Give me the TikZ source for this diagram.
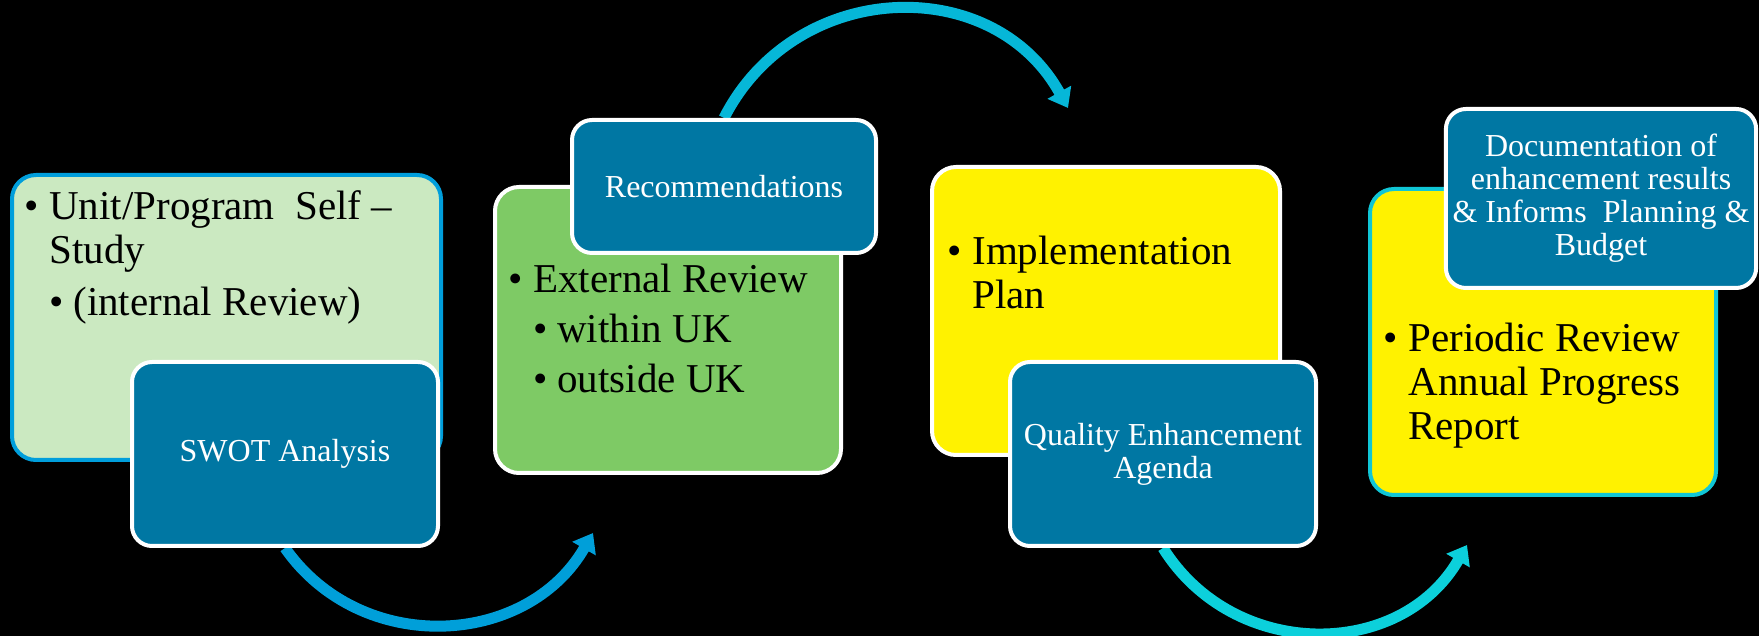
\documentclass[tikz,border=0pt]{standalone}
\usepackage{fontspec}
\setmainfont{Liberation Serif}
\usetikzlibrary{arrows.meta}
\definecolor{noteblue}{RGB}{0,119,163}
\definecolor{stageblue}{RGB}{0,158,219}
\definecolor{stagecyan}{RGB}{16,198,214}
\definecolor{palegreen}{RGB}{203,233,193}
\definecolor{leafgreen}{RGB}{126,202,101}
\definecolor{arrowA}{RGB}{0,159,217}
\definecolor{arrowB}{RGB}{6,183,216}
\definecolor{arrowC}{RGB}{12,208,219}
\newcommand{\bul}{\makebox[12.5pt][l]{\textbullet}}
\newcommand{\ind}{\hspace*{12.5pt}}
\newcommand{\subbul}{\hspace*{12.5pt}\makebox[12pt][l]{\textbullet}}
\pgfdeclarelayer{behind}
\pgfsetlayers{behind,main}
\tikzset{
  stage/.style={draw=white, line width=2pt, rounded corners=12pt, inner sep=0pt},
  note/.style={fill=noteblue, draw=white, line width=2pt, rounded corners=10pt, text=white, align=center, font=\fontsize{16}{16.5}\selectfont},
  bigtext/.style={anchor=north west, inner sep=0pt, align=left, font=\fontsize{20.5}{22}\selectfont},
  cyclearrow/.style={line width=5.5pt, -{Triangle[length=9pt,width=13pt]}}
}
\begin{document}
\begin{tikzpicture}[x=0.5pt,y=0.5pt]
\begin{pgfonlayer}{behind}
\fill[black] (0,0) rectangle (1759,636);
\end{pgfonlayer}
\useasboundingbox (0,0) rectangle (1759,636);
\node[stage, draw=stageblue, fill=palegreen, minimum width=214.5pt, minimum height=142.5pt] (s1) at (226.5,318.5) {};
\node[stage, fill=leafgreen, minimum width=173pt, minimum height=143pt] (s2) at (668,306) {};
\node[stage, fill=yellow, minimum width=174pt, minimum height=144pt] (s3) at (1106,325) {};
\node[stage, draw=stagecyan, fill=yellow, minimum width=173pt, minimum height=153pt] (s4) at (1543,294) {};
\node[bigtext] (t1) at ([shift={(14,-17)}]s1.north west) {\bul Unit/Program\ \ Self --\\\ind Study\\[4pt]\subbul (internal Review)};
\node[bigtext] (t2) at ([shift={(15,-79)}]s2.north west) {\bul External Review\\[3pt]\subbul within UK\\[3pt]\subbul outside UK};
\node[bigtext] (t3) at ([shift={(17,-71)}]s3.north west) {\bul Implementation\\\ind Plan};
\node[bigtext] (t4) at ([shift={(15,-136)}]s4.north west) {\bul Periodic Review\\\ind Annual Progress\\\ind Report};
\node[note, minimum width=153pt, minimum height=92pt] (swot) at (285,182) {SWOT Analysis};
\node[note, minimum width=152pt, minimum height=66.5pt] (rec) at (724,449.5) {Recommendations};
\node[note, minimum width=153pt, minimum height=92pt] (qea) at (1163,182) {Quality Enhancement\\Agenda};
\node[note, minimum width=154pt, minimum height=89.5pt] (doc) at (1601,437.5) {Documentation of\\enhancement results\\\&~Informs\ \ Planning \&\\Budget};
\coordinate (e1) at (593,103);
\coordinate (e2) at (1068,528);
\coordinate (e3) at (1467,91);
\begin{pgfonlayer}{behind}
\draw[cyclearrow, arrowA] (swot.south) to[out=-55, in=240, looseness=1.1] (e1);
\draw[cyclearrow, arrowB] (rec.north) to[out=63, in=119, looseness=1.16] (e2);
\draw[cyclearrow, arrowC] (qea.south) to[out=-58, in=240, looseness=1.12] (e3);
\end{pgfonlayer}
\end{tikzpicture}
\end{document}
